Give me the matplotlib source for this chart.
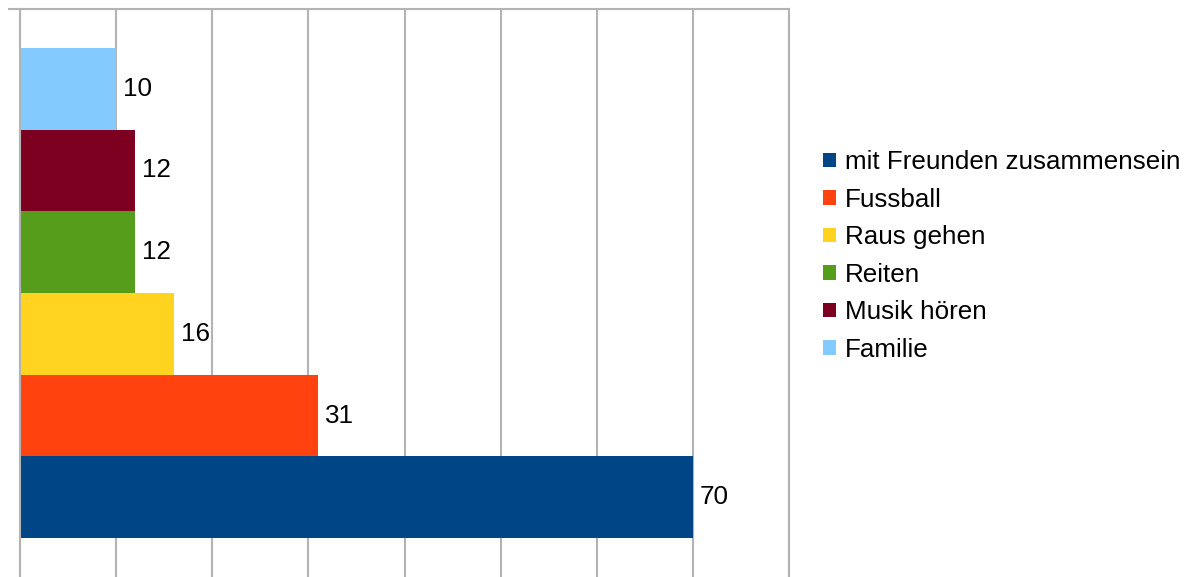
import matplotlib.pyplot as plt
from matplotlib.patches import Patch
from matplotlib.transforms import offset_copy

# ====== DATA ======
series = ["mit Freunden zusammensein", "Fussball", "Raus gehen", "Reiten", "Musik hören", "Familie"]
values = [70, 31, 16, 12, 12, 10]
colors = ["#004586", "#ff420e", "#ffd320", "#579d1c", "#7e0021", "#83caff"]
x_ticks = [0, 10, 20, 30, 40, 50, 60, 70, 80]

plt.rcParams["font.family"] = ["Liberation Sans", "DejaVu Sans"]
GRID = "#b3b3b3"
FS = 18.7

W, H = 1188, 577
fig = plt.figure(figsize=(W / 100, H / 100), dpi=100)
ax = fig.add_axes([20 / W, 0, 769 / W, 568 / H])

# one category, six series stacked as adjacent bars
pos = list(range(len(series)))
for p, v, c in zip(pos, values, colors):
    ax.barh(p, v, height=1.0, color=c, zorder=2)
    lbl = offset_copy(ax.transData, fig=fig, x=7, y=0, units="dots")
    ax.text(v, p, str(v), transform=lbl, ha="left", va="center",
            fontsize=FS, color="#000000", zorder=3)

margin = 0.477
ytop = len(series) - 0.5 + margin
ax.set_xlim(x_ticks[0], x_ticks[-1])
ax.set_ylim(-0.5 - margin, ytop)

ax.set_xticks(x_ticks)
ax.xaxis.grid(True, color=GRID, linewidth=1.5, zorder=1)
ax.tick_params(axis="x", length=0, labelbottom=False)
ax.set_yticks([ytop])
ax.set_yticklabels([])
ax.tick_params(axis="y", length=9, width=1.5, color=GRID, direction="out")
ax.set_axisbelow(True)

ax.spines["bottom"].set_visible(False)
for s in ["top", "left", "right"]:
    ax.spines[s].set_color(GRID)
    ax.spines[s].set_linewidth(1.5)

handles = [Patch(facecolor=c, edgecolor="none") for c in colors]
fig.legend(handles, series, loc="center left", bbox_to_anchor=(823 / W, 1 - 256 / H),
           frameon=False, fontsize=FS, borderpad=0, borderaxespad=0,
           handlelength=0.5, handleheight=0.5, handletextpad=0.35,
           labelspacing=0.52)

fig.savefig("out.png", dpi=100)
